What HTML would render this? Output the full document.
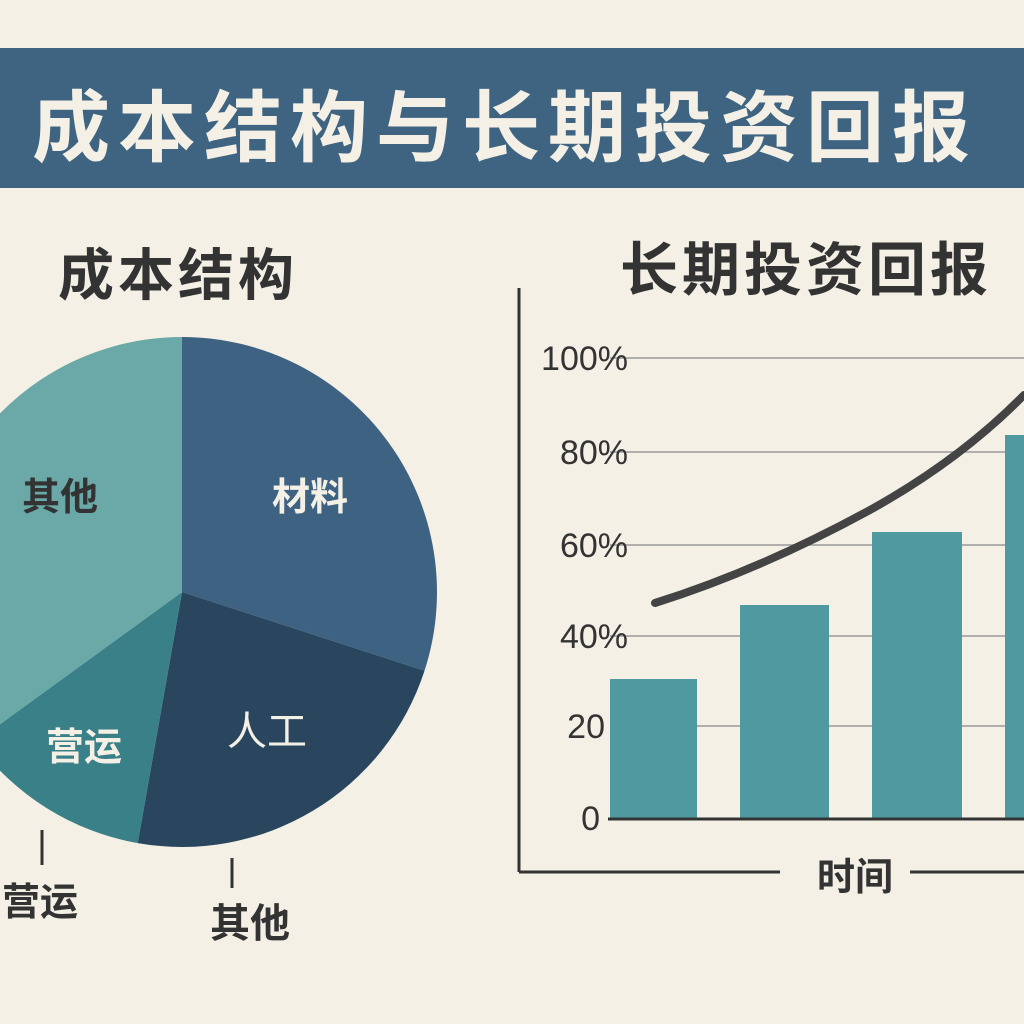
<!DOCTYPE html>
<html><head><meta charset="utf-8"><style>
html,body{margin:0;padding:0;background:#f4f0e5;}
svg{display:block}
</style></head><body>
<svg width="1024" height="1024" viewBox="0 0 1024 1024" xmlns="http://www.w3.org/2000/svg" font-family="'Liberation Sans','Noto Sans CJK SC',sans-serif">
<rect width="1024" height="1024" fill="#f4f0e5"/>
<rect x="0" y="48" width="1024" height="140" fill="#3e6482"/>
<text x="505" y="155" font-size="78" font-weight="bold" fill="#f4f0e5" text-anchor="middle" letter-spacing="8">成本结构与长期投资回报</text>
<text x="178" y="295" font-size="56" font-weight="bold" fill="#333" text-anchor="middle" letter-spacing="4">成本结构</text>
<g transform="translate(182,592)">
<path d="M0,0 L0,-255 A255,255 0 0 1 242.5,78.8 Z" fill="#3e6282"/>
<path d="M0,0 L242.5,78.8 A255,255 0 0 1 -44.3,251.1 Z" fill="#2a465e"/>
<path d="M0,0 L-44.3,251.1 A255,255 0 0 1 -206.3,149.9 Z" fill="#3a8088"/>
<path d="M0,0 L-206.3,149.9 A255,255 0 0 1 0,-255 Z" fill="#6aa9a8"/>
</g>
<text x="60" y="510" font-size="38" font-weight="bold" fill="#333" text-anchor="middle">其他</text>
<text x="310" y="510" font-size="38" font-weight="bold" fill="#f4f0e5" text-anchor="middle">材料</text>
<text x="267" y="745" font-size="40" fill="#f4f0e5" text-anchor="middle">人工</text>
<text x="84" y="760" font-size="38" font-weight="bold" fill="#f4f0e5" text-anchor="middle">营运</text>
<line x1="42" y1="830" x2="42" y2="865" stroke="#333" stroke-width="3"/>
<text x="40" y="915" font-size="38" font-weight="bold" fill="#333" text-anchor="middle">营运</text>
<line x1="232" y1="858" x2="232" y2="888" stroke="#333" stroke-width="3"/>
<text x="250" y="937" font-size="40" font-weight="bold" fill="#333" text-anchor="middle">其他</text>
<text x="806" y="290" font-size="58" font-weight="bold" fill="#333" text-anchor="middle" letter-spacing="4">长期投资回报</text>
<g stroke="#999" stroke-width="1.5">
<line x1="610" y1="358" x2="1024" y2="358"/><line x1="610" y1="452" x2="1024" y2="452"/>
<line x1="610" y1="545" x2="1024" y2="545"/><line x1="610" y1="636" x2="1024" y2="636"/>
<line x1="610" y1="726" x2="1024" y2="726"/>
</g>
<g font-size="34" fill="#333" text-anchor="end">
<text x="628" y="370">100%</text><text x="628" y="464">80%</text><text x="628" y="557">60%</text>
<text x="628" y="648">40%</text><text x="605" y="738">20</text><text x="600" y="830">0</text>
</g>
<g fill="#4e9aa0">
<rect x="610" y="679" width="87" height="139"/><rect x="740" y="605" width="89" height="213"/>
<rect x="872" y="532" width="90" height="286"/><rect x="1005" y="435" width="19" height="383"/>
</g>
<line x1="608" y1="819" x2="1024" y2="819" stroke="#333" stroke-width="3"/>
<path d="M655,603 Q760,570 870,510 Q960,460 1024,395" fill="none" stroke="#444" stroke-width="8" stroke-linecap="round"/>
<line x1="519" y1="288" x2="519" y2="872" stroke="#333" stroke-width="3"/>
<line x1="519" y1="872" x2="780" y2="872" stroke="#333" stroke-width="3"/>
<line x1="910" y1="872" x2="1024" y2="872" stroke="#333" stroke-width="3"/>
<text x="855" y="890" font-size="38" font-weight="bold" fill="#333" text-anchor="middle">时间</text>
</svg>
</body></html>
